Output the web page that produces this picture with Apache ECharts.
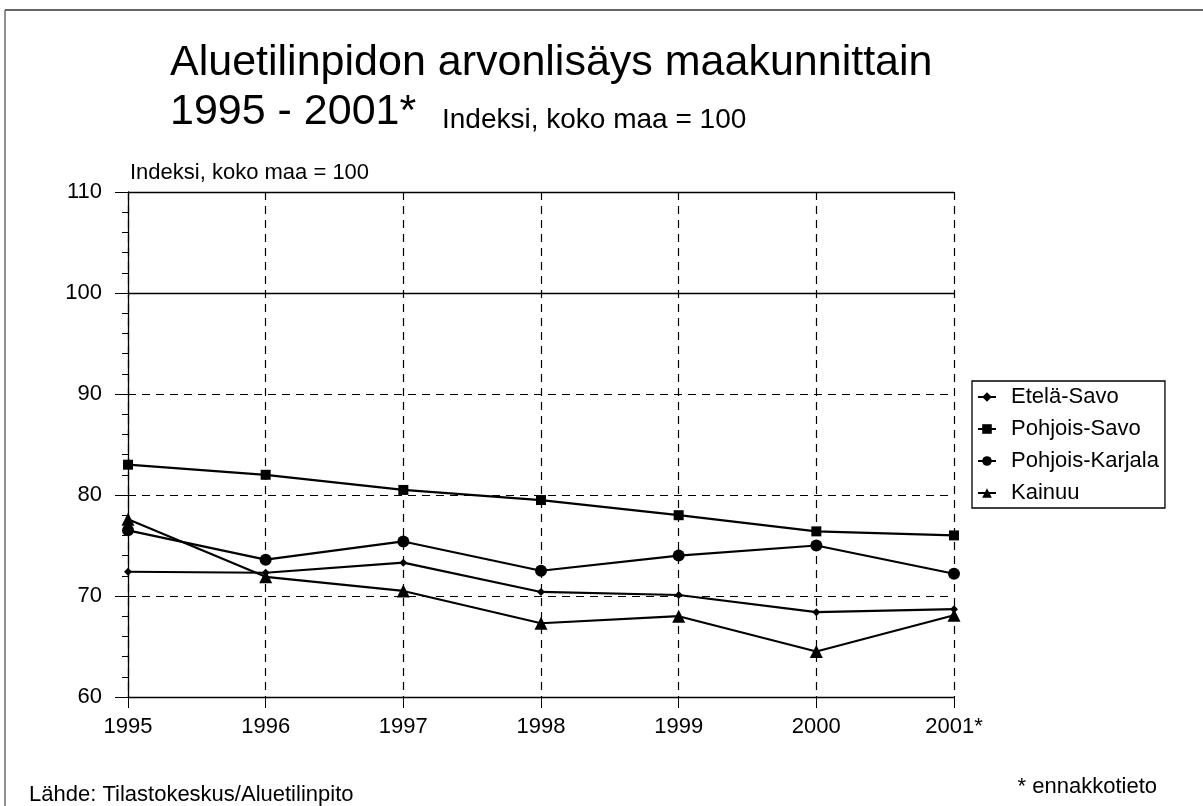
<!DOCTYPE html>
<html>
<head>
<meta charset="utf-8">
<script src="https://cdn.jsdelivr.net/npm/echarts@6/dist/echarts.min.js"></script>
<style>
html,body{margin:0;padding:0;background:#fff;}
#chart{width:1203px;height:806px;}
</style>
</head>
<body>
<div id="chart"></div>
<script>
const years = ['1995', '1996', '1997', '1998', '1999', '2000', '2001*'];
const seriesNames = ['Etelä-Savo', 'Pohjois-Savo', 'Pohjois-Karjala', 'Kainuu'];
const etelaSavo = [72.4, 72.3, 73.3, 70.4, 70.1, 68.4, 68.7];
const pohjoisSavo = [83.0, 82.0, 80.5, 79.5, 78.0, 76.4, 76.0];
const pohjoisKarjala = [76.5, 73.6, 75.4, 72.5, 74.0, 75.0, 72.2];
const kainuu = [77.6, 71.9, 70.5, 67.3, 68.0, 64.5, 68.1];
const yMin = 60, yMax = 110, yStep = 10;
const titleLine1 = 'Aluetilinpidon arvonlisäys maakunnittain';
const titleLine2 = '1995 - 2001*';
const subtitle = 'Indeksi, koko maa = 100';
const axisName = 'Indeksi, koko maa = 100';
const source = 'Lähde: Tilastokeskus/Aluetilinpito';
const note = '* ennakkotieto';

const FONT = '"Liberation Sans", Arial, sans-serif';
const chart = echarts.init(document.getElementById('chart'), null, {renderer: 'canvas'});

function lineSeries(name, data, symbol, size) {
  return {
    name: name, type: 'line', data: data,
    symbol: symbol, symbolSize: size, showSymbol: true,
    lineStyle: {color: '#000', width: 2.2},
    itemStyle: {color: '#000', borderWidth: 0},
    emphasis: {disabled: true},
    z: 5
  };
}

const series = [
  lineSeries(seriesNames[0], etelaSavo, 'diamond', 8),
  lineSeries(seriesNames[1], pohjoisSavo, 'rect', 10),
  lineSeries(seriesNames[2], pohjoisKarjala, 'circle', 12),
  lineSeries(seriesNames[3], kainuu, 'triangle', 13)
];
series[0].markLine = {
  silent: true, symbol: 'none', label: {show: false},
  lineStyle: {color: '#000', type: 'solid', width: 1.3},
  data: [{yAxis: 100}, {yAxis: 110}]
};

chart.setOption({
  animation: false,
  backgroundColor: '#fff',
  textStyle: {fontFamily: FONT, color: '#000'},
  grid: {left: 128, right: 249, top: 192, bottom: 109, containLabel: false},
  legend: {
    data: seriesNames,
    orient: 'vertical',
    left: 972, top: 381,
    padding: [5, 6, 4, 5],
    itemWidth: 18, itemHeight: 12, itemGap: 10,
    borderColor: '#000', borderWidth: 1.3,
    backgroundColor: '#fff',
    textStyle: {fontFamily: FONT, fontSize: 22, color: '#000', padding: [0, 0, 0, 10]}
  },
  xAxis: {
    type: 'category', data: years, boundaryGap: false,
    axisLine: {lineStyle: {color: '#000', width: 1.3}},
    axisTick: {show: true, length: 11, lineStyle: {color: '#000'}},
    axisLabel: {fontFamily: FONT, fontSize: 22, color: '#000', margin: 19},
    splitLine: {show: true, lineStyle: {color: '#000', type: [8, 6], width: 1.2}}
  },
  yAxis: {
    type: 'value', min: yMin, max: yMax, interval: yStep,
    axisLine: {show: true, lineStyle: {color: '#000', width: 1.3}},
    axisTick: {show: true, length: 13, lineStyle: {color: '#000'}},
    minorTick: {show: true, splitNumber: 5, length: 6, lineStyle: {color: '#000'}},
    axisLabel: {fontFamily: FONT, fontSize: 22, color: '#000', margin: 26},
    splitLine: {show: true, lineStyle: {color: '#000', type: [8, 6], width: 1.2}}
  },
  graphic: [
    {type: 'line', shape: {x1: 5, y1: 10, x2: 1203, y2: 10}, style: {stroke: '#333', lineWidth: 1.3}},
    {type: 'line', shape: {x1: 5, y1: 10, x2: 5, y2: 806}, style: {stroke: '#555', lineWidth: 1.3}},
    {type: 'text', x: 170, y: 63.5, style: {text: titleLine1, font: '43px ' + FONT, fill: '#000', verticalAlign: 'middle', align: 'left'}},
    {type: 'text', x: 170, y: 112.5, style: {text: titleLine2, font: '43px ' + FONT, fill: '#000', verticalAlign: 'middle', align: 'left'}},
    {type: 'text', x: 442, y: 120, style: {text: subtitle, font: '28px ' + FONT, fill: '#000', verticalAlign: 'middle', align: 'left'}},
    {type: 'text', x: 130, y: 173, style: {text: axisName, font: '22px ' + FONT, fill: '#000', verticalAlign: 'middle', align: 'left'}},
    {type: 'text', x: 29, y: 795, style: {text: source, font: '22px ' + FONT, fill: '#000', verticalAlign: 'middle', align: 'left'}},
    {type: 'text', x: 1157, y: 787, style: {text: note, font: '22px ' + FONT, fill: '#000', verticalAlign: 'middle', align: 'right'}}
  ],
  series: series
});
</script>
</body>
</html>
